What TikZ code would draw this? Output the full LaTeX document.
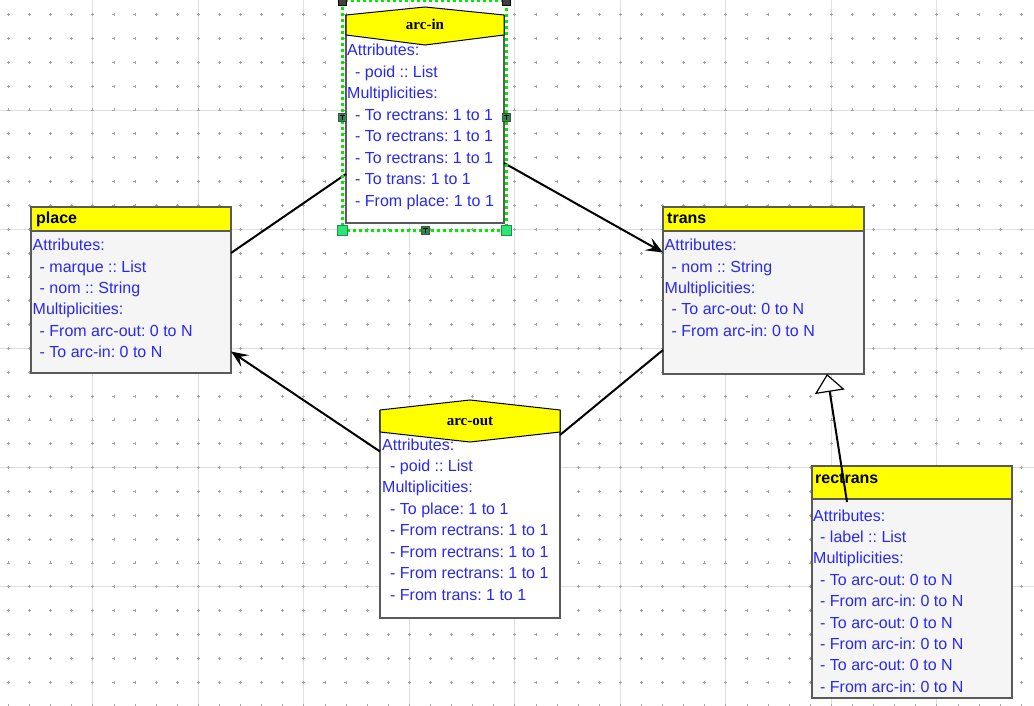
\documentclass[tikz,border=0pt]{standalone}
\usepackage{fontspec}
\setmainfont{Liberation Sans}
\newfontfamily\headserif{Liberation Serif}
\usetikzlibrary{arrows.meta,calc}

\definecolor{txtblue}{RGB}{40,40,240}
\definecolor{boxline}{RGB}{90,90,90}
\definecolor{bodygrey}{RGB}{245,245,245}
\definecolor{hdryellow}{RGB}{255,255,0}
\definecolor{gridline}{RGB}{222,222,222}
\definecolor{griddot}{RGB}{165,165,165}
\definecolor{selgreen}{RGB}{0,235,0}
\definecolor{handlelight}{RGB}{40,230,120}
\definecolor{handledark}{RGB}{40,140,80}

\begin{document}
\frenchspacing
\begin{tikzpicture}[x=1pt,y=-1pt,
  classbox/.style={fill=bodygrey, inner sep=0, outer sep=0, anchor=north west},
  arcbox/.style={fill=white, inner sep=0, outer sep=0, anchor=north west},
  outline/.style={draw=boxline, line width=1.6pt},
  hdr/.style={fill=hdryellow},
  hdrtext/.style={font=\fontsize{16}{18}\selectfont\bfseries, text=black, anchor=base west, inner sep=0},
  arctitle/.style={font=\headserif\fontsize{15}{17}\selectfont\bfseries, text=black, anchor=base, inner sep=0},
  entry/.style={font=\fontsize{16}{18}\selectfont, text=txtblue, anchor=base west, inner sep=0},
  link/.style={draw=black, line width=2pt},
  navarrow/.style={-{Stealth[length=17pt,width=14pt,inset=7pt]}},
  inherit/.style={-{Triangle[fill=white,length=18pt,width=30pt,line width=1.2pt]}},
  handlecorner/.style={fill=handlelight, draw=handledark, line width=0.8pt},
  handlemid/.style={fill=handledark, draw=black!70, line width=0.8pt},
]
\useasboundingbox (0,0) rectangle (1034,706);
\fill[white] (0,0) rectangle (1034,706);

% canvas grid: major lines and dotted minor points
\begin{scope}
  \clip (0,0) rectangle (1034,706);
  \foreach \k in {0,...,9}
    \draw[gridline, line width=0.9pt] ({92.7+105.5*\k},0) -- ++(0,706);
  \foreach \k in {0,...,5}
    \draw[gridline, line width=0.9pt] (0,{110+119.2*\k}) -- ++(1034,0);
  \foreach \i in {0,...,48}
    \foreach \j in {0,...,29}
      \draw[griddot, line width=0.6pt]
        ({8.3+21.1*\i-1.5},{14.6+23.84*\j}) -- ++(3,0)
        ({8.3+21.1*\i},{14.6+23.84*\j-1.5}) -- ++(0,3);
\end{scope}

% ---------- class place ----------
\node[classbox, minimum width=200, minimum height=166] (place) at (31,207) {};
\fill[hdr] (place.north west) rectangle ($(place.north east)+(0,24)$);
\draw[boxline, line width=1.2pt] ($(place.north west)+(0,24)$) -- ($(place.north east)+(0,24)$);
\draw[outline] (place.north west) rectangle (place.south east);
\node[hdrtext] (place-title) at ($(place.north west)+(5,16)$) {place};
\foreach \dx/\t [count=\i] in {1.5/Attributes:, 8.5/- marque :: List, 8.5/- nom :: String,
    1.5/Multiplicities:, 8.5/- From arc-out: 0 to N, 8.5/- To arc-in: 0 to N}
  \node[entry] (place-\i) at ($(place.north west)+(\dx,{43.7+21.4*(\i-1)})$) {\t};

% ---------- class trans ----------
\node[classbox, minimum width=201, minimum height=167] (trans) at (663,207) {};
\fill[hdr] (trans.north west) rectangle ($(trans.north east)+(0,24)$);
\draw[boxline, line width=1.2pt] ($(trans.north west)+(0,24)$) -- ($(trans.north east)+(0,24)$);
\draw[outline] (trans.north west) rectangle (trans.south east);
\node[hdrtext] (trans-title) at ($(trans.north west)+(4,16)$) {trans};
\foreach \dx/\t [count=\i] in {1.5/Attributes:, 8.5/- nom :: String,
    1.5/Multiplicities:, 8.5/- To arc-out: 0 to N, 8.5/- From arc-in: 0 to N}
  \node[entry] (trans-\i) at ($(trans.north west)+(\dx,{43.7+21.4*(\i-1)})$) {\t};

% ---------- class rectrans ----------
\node[classbox, minimum width=200, minimum height=232] (rectrans) at (812,466) {};
\fill[hdr] (rectrans.north west) rectangle ($(rectrans.north east)+(0,33)$);
\draw[boxline, line width=1.2pt] ($(rectrans.north west)+(0,33)$) -- ($(rectrans.north east)+(0,33)$);
\draw[outline] (rectrans.north west) rectangle (rectrans.south east);
\node[hdrtext] (rectrans-title) at ($(rectrans.north west)+(3,17.3)$) {rectrans};
\foreach \dx/\t [count=\i] in {1/Attributes:, 8/- label :: List, 1/Multiplicities:,
    8/- To arc-out: 0 to N, 8/- From arc-in: 0 to N, 8/- To arc-out: 0 to N,
    8/- From arc-in: 0 to N, 8/- To arc-out: 0 to N, 8/- From arc-in: 0 to N}
  \node[entry] (rectrans-\i) at ($(rectrans.north west)+(\dx,{55+21.4*(\i-1)})$) {\t};

% ---------- association arc-in ----------
\node[arcbox, minimum width=158, minimum height=208] (arcin) at (346,15) {};
\draw[outline] (arcin.north west) -- (arcin.south west) -- (arcin.south east) -- (arcin.north east);
\foreach \dx/\t [count=\i] in {1/Attributes:, 9/- poid :: List, 1/Multiplicities:,
    9/- To rectrans: 1 to 1, 9/- To rectrans: 1 to 1, 9/- To rectrans: 1 to 1,
    9/- To trans: 1 to 1, 9/- From place: 1 to 1}
  \node[entry] (arcin-\i) at ($(arcin.north west)+(\dx,{41+21.43*(\i-1)})$) {\t};
\filldraw[hdr, draw=black, line width=1pt]
  (arcin.north west) -- ($(arcin.north)+(0,-8)$) -- (arcin.north east)
  -- ($(arcin.north east)+(0,20)$) -- ($(arcin.north)+(0,30)$)
  -- ($(arcin.north west)+(0,20)$) -- cycle;
\node[arctitle] (arcin-title) at ($(arcin.north)+(0,15)$) {arc-in};

% ---------- association arc-out ----------
\node[arcbox, minimum width=180, minimum height=208] (arcout) at (380,410) {};
\draw[outline] (arcout.north west) -- (arcout.south west) -- (arcout.south east) -- (arcout.north east);
\foreach \dx/\t [count=\i] in {2/Attributes:, 10/- poid :: List, 2/Multiplicities:,
    10/- To place: 1 to 1, 10/- From rectrans: 1 to 1, 10/- From rectrans: 1 to 1,
    10/- From rectrans: 1 to 1, 10/- From trans: 1 to 1}
  \node[entry] (arcout-\i) at ($(arcout.north west)+(\dx,{40+21.43*(\i-1)})$) {\t};
\filldraw[hdr, draw=black, line width=1pt]
  (arcout.north west) -- ($(arcout.north)+(0,-10)$) -- (arcout.north east)
  -- ($(arcout.north east)+(0,22)$) -- ($(arcout.north)+(0,32)$)
  -- ($(arcout.north west)+(0,22)$) -- cycle;
\node[arctitle] (arcout-title) at ($(arcout.north)+(0,15)$) {arc-out};

% ---------- connectors ----------
\draw[link] ($(place.north east)+(0,46)$) -- ($(arcin.south west)+(0,-49)$);
\draw[link, navarrow] ($(arcin.north east)+(0,148)$) -- ($(trans.north west)+(0,45.5)$);
\draw[link] ($(trans.south west)+(0,-24)$) -- ($(arcout.north east)+(0,25)$);
\draw[link, navarrow] ($(arcout.north west)+(0,41.5)$) -- ($(place.south east)+(0,-21.5)$);
\draw[link, inherit] ($(rectrans.north west)+(35,36)$) -- ($(trans.south west)+(164,0)$);

% ---------- selection frame on arc-in ----------
\coordinate (sel-nw) at ($(arcin.north west)+(-4,-14)$);
\coordinate (sel-ne) at ($(arcin.north east)+(2,-14)$);
\coordinate (sel-sw) at ($(arcin.south west)+(-4,7)$);
\coordinate (sel-se) at ($(arcin.south east)+(2,7)$);
\coordinate (sel-w) at ($(arcin.west)+(-4,-2)$);
\coordinate (sel-e) at ($(arcin.east)+(2,-2)$);
\coordinate (sel-s) at ($(arcin.south)+(0,7)$);
\draw[selgreen, line width=3pt, dash pattern=on 3pt off 3pt] (sel-nw) rectangle (sel-se);
\foreach \p in {sel-sw, sel-se}
  \filldraw[handlecorner] (\p) ++(-5,-5) rectangle ++(10,10);
\foreach \p in {sel-nw, sel-ne}
  \filldraw[fill=black!75, draw=black] (\p) ++(-4,-4) rectangle ++(8,8);
\foreach \p in {sel-w, sel-e, sel-s} {
  \filldraw[handlemid] (\p) ++(-4,-4) rectangle ++(8,8);
  \draw[black, line width=0.8pt] (\p) ++(-2.5,-2) -- ++(5,0) (\p) ++(0,-2) -- ++(0,5);
}
\end{tikzpicture}
\end{document}
